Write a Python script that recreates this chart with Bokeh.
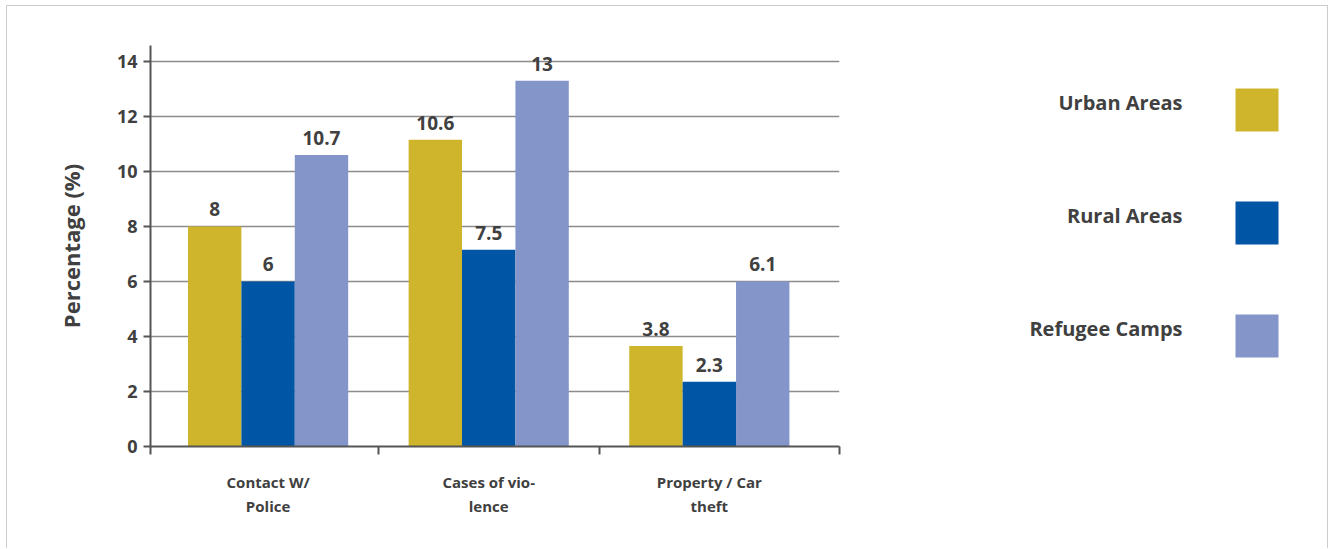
from bokeh.plotting import figure
from bokeh.layouts import row
from bokeh.models import Range1d, FixedTicker
from bokeh.core.properties import value
from bokeh.embed import file_html
from bokeh.resources import INLINE

# ---- data ----
categories = ["Contact W/\nPolice", "Cases of vio-\nlence", "Property / Car\ntheft"]
series = ["Urban Areas", "Rural Areas", "Refugee Camps"]
urban = [8.0, 11.15, 3.65]
rural = [6.0, 7.15, 2.35]
refugee = [10.6, 13.3, 6.0]
urban_labels = ["8", "10.6", "3.8"]
rural_labels = ["6", "7.5", "2.3"]
refugee_labels = ["10.7", "13", "6.1"]
y_ticks = [0, 2, 4, 6, 8, 10, 12, 14]
colors = ["#CFB52B", "#0055A5", "#8395C9"]

FONT = "Open Sans"
TXT = "#404040"
AX = "#555555"

n = len(categories)
x_start, x_end = -0.533, n - 1 + 0.59
bw = 0.242

H = 542
MB_TOP, MB_BOT = 39, 102

p = figure(width=842, height=H, output_backend="svg", toolbar_location=None,
           x_range=Range1d(x_start, x_end), y_range=Range1d(0, 14.58),
           min_border_left=143, min_border_right=10, min_border_top=MB_TOP,
           min_border_bottom=MB_BOT)
p.outline_line_color = None
p.background_fill_color = "white"
p.border_fill_color = "white"
p.xgrid.grid_line_color = None
p.ygrid.grid_line_color = "#8c8c8c"
p.ygrid.grid_line_width = 1.5
p.ygrid.ticker = FixedTicker(ticks=y_ticks)

all_vals = [urban, rural, refugee]
all_labs = [urban_labels, rural_labels, refugee_labels]
for j, (vals, labs) in enumerate(zip(all_vals, all_labs)):
    xs = [i + (j - 1) * bw for i in range(n)]
    p.vbar(x=xs, top=vals, bottom=0, width=bw, fill_color=colors[j], line_color=None)
    p.text(x=xs, y=vals, text=labs, y_offset=-17, text_align="center",
           text_baseline="alphabetic", text_font=value(FONT), text_font_style="bold",
           text_font_size="19px", text_color=TXT)

# y axis
p.yaxis.ticker = FixedTicker(ticks=y_ticks)
p.yaxis.axis_label = "Percentage (%)"
p.yaxis.axis_label_text_font = FONT
p.yaxis.axis_label_text_font_style = "bold"
p.yaxis.axis_label_text_font_size = "22px"
p.yaxis.axis_label_text_color = TXT
p.yaxis.axis_label_standoff = 28
p.yaxis.major_label_text_font = FONT
p.yaxis.major_label_text_font_style = "bold"
p.yaxis.major_label_text_font_size = "18px"
p.yaxis.major_label_text_color = TXT
p.yaxis.major_label_standoff = 6
p.yaxis.major_tick_out = 7
p.yaxis.major_tick_in = 0
p.yaxis.major_tick_line_color = AX
p.yaxis.major_tick_line_width = 2
p.yaxis.minor_tick_line_color = None
p.yaxis.axis_line_color = AX
p.yaxis.axis_line_width = 2

# x axis: labels at category centres, tick marks at boundaries
p.xaxis.ticker = FixedTicker(ticks=list(range(n)),
                             minor_ticks=[x_start + 0.002] + [i + 0.5 for i in range(n - 1)] + [x_end - 0.002])
p.xaxis.major_label_overrides = {i: c for i, c in enumerate(categories)}
p.xaxis.major_tick_out = 0
p.xaxis.major_tick_in = 0
p.xaxis.minor_tick_out = 8
p.xaxis.minor_tick_in = 0
p.xaxis.minor_tick_line_color = AX
p.xaxis.minor_tick_line_width = 2
p.xaxis.axis_line_color = AX
p.xaxis.axis_line_width = 2
p.xaxis.major_label_text_font = FONT
p.xaxis.major_label_text_font_style = "bold"
p.xaxis.major_label_text_font_size = "15px"
p.xaxis.major_label_text_color = TXT
p.xaxis.major_label_text_line_height = 1.2
p.xaxis.major_label_standoff = 17

# legend figure (frame aligned with main frame; data units = pixels from figure top)
LW = 478
leg = figure(width=LW, height=H, output_backend="svg", toolbar_location=None,
             x_range=Range1d(0, LW), y_range=Range1d(H - MB_BOT, MB_TOP),
             min_border_left=0, min_border_right=0, min_border_top=MB_TOP,
             min_border_bottom=MB_BOT, x_axis_type=None, y_axis_type=None)
leg.grid.visible = False
leg.outline_line_color = None
leg.background_fill_color = "white"
leg.border_fill_color = "white"
ys = [103.5 + 113 * i for i in range(len(series))]
leg.rect(x=[407.5] * len(series), y=ys, width=43, height=43, fill_color=colors, line_color=None)
leg.text(x=[333] * len(series), y=[y - 8 for y in ys], text=series, text_align="right",
         text_baseline="alphabetic", text_font=value(FONT), text_font_style="bold",
         text_font_size="20px", text_color=TXT)

layout = row(p, leg, margin=(5, 5, 0, 6),
             styles={"border-top": "1px solid #cccccc", "border-left": "1px solid #cccccc",
                     "border-right": "1px solid #cccccc"})

open("out.html", "w").write(file_html(layout, INLINE))
